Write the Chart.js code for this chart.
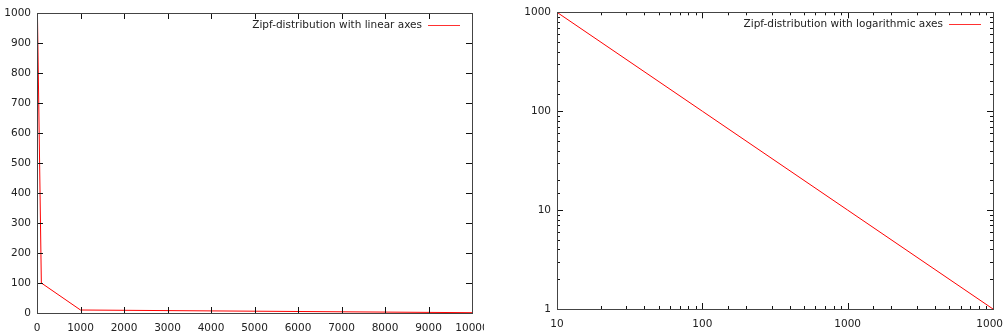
<!DOCTYPE html>
<html>
<head>
<meta charset="utf-8">
<script src="https://cdn.jsdelivr.net/npm/chart.js@4/dist/chart.umd.min.js"></script>
<style>
  html, body { margin: 0; padding: 0; background: #fff; }
  .box { position: absolute; top: 0; height: 336px; overflow: hidden; }
  #leftBox { left: 0; width: 484px; }
  #rightBox { left: 500px; width: 503px; }
  .box div { position: relative; height: 336px; }
  #leftBox div { width: 500px; }
  #rightBox div { width: 520px; }
</style>
</head>
<body>
<div class="box" id="leftBox"><div><canvas id="linearChart"></canvas></div></div>
<div class="box" id="rightBox"><div><canvas id="logChart"></canvas></div></div>
<script>
    "use strict";

    // Zipf data
    var ranks = [10, 100, 1000, 10000];
    var counts = [1000, 100, 10, 1];

    // tick labels
    var linearXTicks = [0, 1000, 2000, 3000, 4000, 5000, 6000, 7000, 8000, 9000, 10000];
    var linearYTicks = [0, 100, 200, 300, 400, 500, 600, 700, 800, 900, 1000];
    var logXTicks = [10, 100, 1000, 10000];
    var logYTicks = [1, 10, 100, 1000];

    var legendLinear = "Zipf-distribution with linear axes";
    var legendLog = "Zipf-distribution with logarithmic axes";

    var FONT = "DejaVu Sans";
    var FONT_SIZE = 10.5;
    Chart.defaults.font.family = FONT;
    Chart.defaults.font.size = FONT_SIZE;
    Chart.defaults.color = "#222";

    var points = ranks.map(function (r, i) { return { x: r, y: counts[i] }; });

    // gnuplot-ish frame, inward ticks and legend inside the plot
    var gnuplotFrame = {
        id: "gnuplotFrame",
        afterDraw: function (chart) {
            var ctx = chart.ctx;
            var a = chart.chartArea;
            var xs = chart.scales.x, ys = chart.scales.y;
            var majorX = chart.options.plugins.gnuplotFrame.majorX;
            var majorY = chart.options.plugins.gnuplotFrame.majorY;
            ctx.save();
            ctx.strokeStyle = "#111";
            ctx.lineWidth = 1;
            ctx.beginPath();
            xs.ticks.forEach(function (t) {
                var px = Math.round(xs.getPixelForValue(t.value)) + 0.5;
                var len = majorX.indexOf(t.value) >= 0 ? 6 : 3;
                ctx.moveTo(px, a.bottom); ctx.lineTo(px, a.bottom - len);
                ctx.moveTo(px, a.top); ctx.lineTo(px, a.top + len);
            });
            ys.ticks.forEach(function (t) {
                var py = Math.round(ys.getPixelForValue(t.value)) + 0.5;
                var len = majorY.indexOf(t.value) >= 0 ? 6 : 3;
                ctx.moveTo(a.left, py); ctx.lineTo(a.left + len, py);
                ctx.moveTo(a.right, py); ctx.lineTo(a.right - len, py);
            });
            ctx.stroke();
            ctx.strokeStyle = "#444";
            ctx.strokeRect(Math.round(a.left) + 0.5, Math.round(a.top) + 0.5,
                Math.round(a.right - a.left), Math.round(a.bottom - a.top));

            // legend
            var label = chart.data.datasets[0].label;
            var ly = Math.round(a.top + 12) + 0.5;
            ctx.beginPath();
            ctx.strokeStyle = "#ff3030";
            ctx.moveTo(Math.round(a.right) - 44, ly);
            ctx.lineTo(Math.round(a.right) - 12, ly);
            ctx.stroke();
            ctx.fillStyle = "#222";
            ctx.font = FONT_SIZE + "px '" + FONT + "'";
            ctx.textAlign = "right";
            ctx.textBaseline = "middle";
            ctx.fillText(label, a.right - 50, ly);
            ctx.restore();
        }
    };

    function plain(v) { return String(v); }

    function makeChart(id, label, xOpts, yOpts, pad, axisW, axisH, majorX, majorY) {
        var ctx = document.getElementById(id).getContext("2d");
        return new Chart(ctx, {
            type: "line",
            data: {
                datasets: [{
                    label: label,
                    data: points,
                    borderColor: "#ff0000",
                    borderWidth: 1,
                    pointRadius: 0,
                    tension: 0,
                    fill: false
                }]
            },
            options: {
                responsive: true,
                maintainAspectRatio: false,
                animation: false,
                layout: { padding: pad },
                plugins: {
                    legend: { display: false },
                    tooltip: { enabled: false },
                    gnuplotFrame: { majorX: majorX, majorY: majorY }
                },
                scales: {
                    x: Object.assign({
                        grid: { display: false, drawTicks: false },
                        border: { display: false },
                        afterFit: function (s) { s.height = axisH; }
                    }, xOpts),
                    y: Object.assign({
                        grid: { display: false, drawTicks: false },
                        border: { display: false },
                        afterFit: function (s) { s.width = axisW; }
                    }, yOpts)
                }
            },
            plugins: [gnuplotFrame]
        });
    }

    // Linear chart
    makeChart("linearChart", legendLinear,
        {
            type: "linear", min: 0, max: 10000,
            afterBuildTicks: function (s) { s.ticks = linearXTicks.map(function (v) { return { value: v }; }); },
            ticks: { autoSkip: false, maxRotation: 0, padding: 9, callback: plain }
        },
        {
            type: "linear", min: 0, max: 1000,
            afterBuildTicks: function (s) { s.ticks = linearYTicks.map(function (v) { return { value: v }; }); },
            ticks: { autoSkip: false, padding: 6, callback: plain }
        },
        { top: 13, right: 28, left: 0, bottom: 0 }, 37, 23, linearXTicks, linearYTicks);

    // Logarithmic chart
    makeChart("logChart", legendLog,
        {
            type: "logarithmic", min: 10, max: 10000,
            ticks: {
                autoSkip: false, maxRotation: 0, padding: 9,
                callback: function (v) { return logXTicks.indexOf(v) >= 0 ? String(v) : ""; }
            }
        },
        {
            type: "logarithmic", min: 1, max: 1000,
            ticks: {
                autoSkip: false, padding: 6,
                callback: function (v) { return logYTicks.indexOf(v) >= 0 ? String(v) : ""; }
            }
        },
        { top: 8, right: 27, left: 0, bottom: 0 }, 57, 27, logXTicks, logYTicks);
</script>
</body>
</html>
